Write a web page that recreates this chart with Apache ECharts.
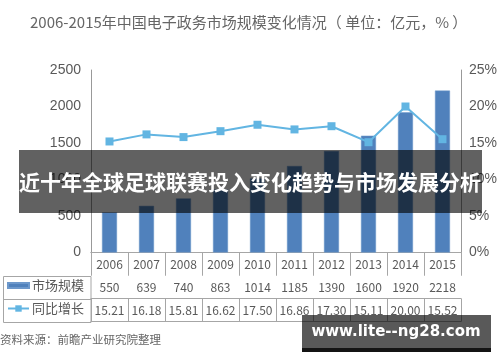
<!DOCTYPE html>
<html>
<head>
<meta charset="utf-8">
<script src="https://cdn.jsdelivr.net/npm/echarts@6/dist/echarts.min.js"></script>
<style>
html,body{margin:0;padding:0;background:#fff;}
#chart{width:500px;height:362px;}
</style>
</head>
<body>
<div id="chart"></div>
<script>
var years = ['2006','2007','2008','2009','2010','2011','2012','2013','2014','2015'];
var marketSize = [550, 639, 740, 863, 1014, 1185, 1390, 1600, 1920, 2218];
var growth = [15.21, 16.18, 15.81, 16.62, 17.50, 16.86, 17.30, 15.11, 20.00, 15.52];
var leftTicks = [0, 2500, 500];
var rightTicks = [0, 25, 5];

var FONT = '"Noto Sans CJK SC", "Liberation Sans", sans-serif';
var TXT = '#595959';
var LINE = '#a6a6a6';
var chart = echarts.init(document.getElementById('chart'), null, {renderer: 'canvas'});

function tableAxis(labels, offset, showLabels) {
  return {
    type: 'category',
    position: 'bottom',
    offset: offset,
    data: labels,
    boundaryGap: true,
    axisLine: {show: true, lineStyle: {color: LINE, width: 1}},
    axisTick: {show: showLabels, length: 23, alignWithLabel: false, lineStyle: {color: LINE}},
    axisLabel: {show: showLabels, interval: 0, margin: 6, fontSize: 12, color: TXT, fontFamily: FONT},
    splitLine: {show: false}
  };
}

function legendRow(name, top, icon) {
  var item = {name: name};
  if (icon) item.icon = icon;
  return {
    orient: 'vertical', left: 7, top: top, padding: 0,
    itemWidth: 21, itemHeight: 8, itemGap: 0,
    textStyle: {fontSize: 13, color: TXT, fontFamily: FONT, padding: [0, 0, 0, -2]},
    data: [item]
  };
}

chart.setOption({
  animation: false,
  textStyle: {fontFamily: FONT},
  title: {
    text: '2006-2015年中国电子政务市场规模变化情况（ 单位：亿元，% ）',
    left: 25, top: 10,
    textStyle: {fontSize: 15, fontWeight: 'normal', color: '#666', fontFamily: FONT}
  },
  grid: {left: 91, right: 37, top: 70, bottom: 109.5},
  legend: [
    legendRow('市场规模', 279, 'path://M0,0 H21 V5 H0 Z'),
    legendRow('同比增长', 302)
  ],
  xAxis: [
    tableAxis(years, 0, true),
    tableAxis(marketSize.map(String), 23, true),
    tableAxis(growth.map(function (v) { return v.toFixed(2); }), 46, true),
    tableAxis(years, 69, false)
  ],
  yAxis: [
    {
      type: 'value', min: leftTicks[0], max: leftTicks[1], interval: leftTicks[2],
      axisLine: {show: true, lineStyle: {color: '#999'}},
      axisTick: {show: false},
      splitLine: {show: false},
      axisLabel: {fontSize: 14, color: TXT, margin: 10, formatter: function (v) { return String(v); }, fontFamily: '"Liberation Sans", sans-serif'}
    },
    {
      type: 'value', min: rightTicks[0], max: rightTicks[1], interval: rightTicks[2], position: 'right',
      axisLine: {show: true, lineStyle: {color: '#999'}},
      axisTick: {show: false},
      splitLine: {show: false},
      axisLabel: {fontSize: 14, color: TXT, margin: 8, formatter: '{value}%', fontFamily: '"Liberation Sans", sans-serif'}
    }
  ],
  series: [
    {
      name: '市场规模', type: 'bar', xAxisIndex: 0, yAxisIndex: 0,
      data: marketSize, barWidth: 15,
      itemStyle: {color: '#5081bc', borderColor: '#6d98cb', borderWidth: 0.5}
    },
    {
      name: '同比增长', type: 'line', xAxisIndex: 0, yAxisIndex: 1,
      data: growth, symbol: 'rect', symbolSize: 8, z: 5,
      lineStyle: {color: '#62b5e2', width: 2},
      itemStyle: {color: '#62b5e2'}
    }
  ],
  graphic: [
    {type: 'rect', z: 50, silent: true, shape: {x: 3.5, y: 276.5, width: 87.5, height: 46}, style: {fill: 'none', stroke: LINE, lineWidth: 1}},
    {type: 'line', z: 50, silent: true, shape: {x1: 3.5, y1: 299.5, x2: 91, y2: 299.5}, style: {stroke: LINE, lineWidth: 1}},
    {type: 'text', z: 60, left: 0, top: 334, style: {text: '资料来源：前瞻产业研究院整理', fontSize: 11.5, fill: '#666', fontFamily: FONT}},
    {type: 'rect', z: 100, silent: true, shape: {x: 19, y: 150, width: 463, height: 63}, style: {fill: 'rgba(0,0,0,0.62)'}},
    {type: 'text', z: 101, silent: true, x: 250, y: 182, style: {text: '近十年全球足球联赛投入变化趋势与市场发展分析', fontSize: 21, fontWeight: 'bold', fill: '#fff', align: 'center', verticalAlign: 'middle', fontFamily: FONT}},
    {type: 'rect', z: 100, silent: true, shape: {x: 302, y: 315, width: 189, height: 33}, style: {fill: 'rgba(0,0,0,0.65)'}},
    {type: 'rect', z: 100, silent: true, shape: {x: 302, y: 348, width: 189, height: 4}, style: {fill: 'rgba(0,0,0,0.92)'}},
    {type: 'text', z: 101, silent: true, x: 396, y: 332, style: {text: 'www.lite--ng28.com', fontSize: 15, fontWeight: 'bold', fill: '#fff', align: 'center', verticalAlign: 'middle', fontFamily: '"DejaVu Sans", sans-serif'}}
  ]
});
</script>
</body>
</html>
